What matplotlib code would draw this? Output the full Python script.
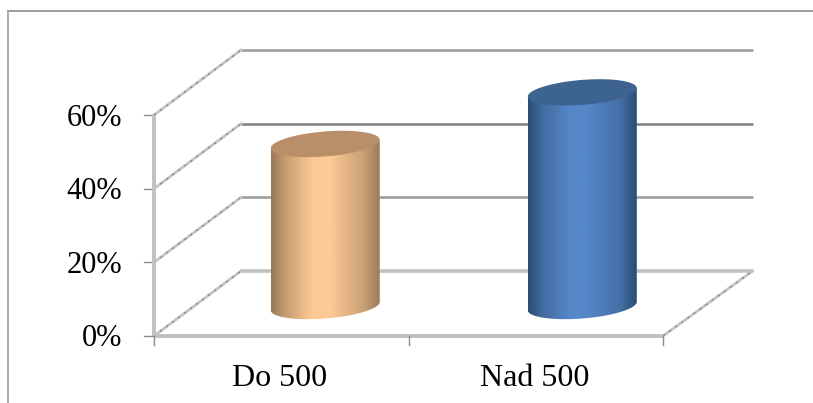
import numpy as np
import matplotlib
matplotlib.use('Agg')
import matplotlib.pyplot as plt
from matplotlib.colors import LinearSegmentedColormap
from matplotlib.patches import PathPatch, Polygon
from matplotlib.path import Path

categories = ['Do 500', 'Nad 500']
values = [44, 58]
yticks = [0, 20, 40, 60]
ytick_labels = ['0%', '20%', '40%', '60%']
side_colors = [
    ['#987757', '#c39a70', '#fdc994', '#fdc994', '#c9a075', '#9c7b5b'],
    ['#2c4d75', '#41699c', '#5587c9', '#5587c9', '#446fa6', '#2b4c75'],
]
top_colors = ['#b98f69', '#3d6491']

W, H = 813, 403
plt.rcParams['font.family'] = ['Liberation Serif', 'DejaVu Serif']

# scale of the plot box in pixels per data unit
x0_px, y0_px = 154, 336
px_x = 254.5
px_y = 3.683
depth_x = 87 / px_x
depth_y = 65 / px_y

fig = plt.figure(figsize=(W / 100, H / 100), dpi=100)
ax = fig.add_axes([0, 0, 1, 1])
xlim = (-x0_px / px_x, (W - x0_px) / px_x)
ylim = ((y0_px - H) / px_y, y0_px / px_y)
ax.axis('off')

# chart frame, only top and left are there
ax.plot([xlim[0] + 8 / px_x, xlim[1]], [ylim[1] - 11 / px_y] * 2, color='#8c8c8c', lw=1.2)
ax.plot([xlim[0] + 8 / px_x] * 2, [ylim[0], ylim[1] - 11 / px_y], color='#a0a0a0', lw=1.2)

# back wall grid
grid_colors = {0: '#c0c0c0', 20: '#a0a0a0', 40: '#858585', 60: '#a0a0a0'}
for t in yticks:
    ax.plot([depth_x, 2 + depth_x * 1.03], [t + depth_y] * 2, color=grid_colors[t],
            lw=2.6 if t == 0 else 1.9, solid_capstyle='butt', zorder=1)
    # slanted lines on the side wall
    ax.plot([0, depth_x], [t, t + depth_y], color='#c4c4c4', lw=2, zorder=1)
    ax.plot([0, depth_x], [t, t + depth_y], color='#8a8a8a', lw=0.9, ls=(0, (2, 4)), zorder=1)
    ax.plot([-10 / px_x, 0], [t, t], color='#8c8c8c', lw=1, zorder=2)
    ax.text(-32 / px_x, t - 3 / px_y, ytick_labels[t // 20], ha='right', va='center', fontsize=22, color='black')

ax.plot([2, 2 + depth_x * 1.03], [0, depth_y], color='#c4c4c4', lw=2, zorder=1)
ax.plot([2, 2 + depth_x * 1.03], [0, depth_y], color='#8a8a8a', lw=0.9, ls=(0, (2, 4)), zorder=1)

# front edges of the floor and wall
ax.plot([0, 0], [0, 60], color='#c0c0c0', lw=2.8, solid_capstyle='butt', zorder=2)
ax.plot([0, 2], [0, 0], color='#c0c0c0', lw=2.8, solid_capstyle='butt', zorder=2)
for t in [0, 1, 2]:
    ax.plot([t, t], [0, -9 / px_y], color='#8c8c8c', lw=1, zorder=3)

# cylinders
half_w = 54.5 / px_x
tilt = 4.2 / px_y
half_h = 12.5 / px_y
base_dx = 44 / px_x
base_dy = 30 / px_y
theta = np.linspace(0, 2 * np.pi, 121)

for i, (name, val) in enumerate(zip(categories, values)):
    cx = 1.01 * i + 0.5 + base_dx
    ex = cx + half_w * np.cos(theta)
    ey = tilt * np.cos(theta) + half_h * np.sin(theta)
    top = val + base_dy
    lower = theta[60:]
    lx = cx + half_w * np.cos(lower)
    ly = base_dy + tilt * np.cos(lower) + half_h * np.sin(lower)
    body = np.vstack([np.column_stack([lx, ly]),
                      [[cx + half_w, top + tilt], [cx - half_w, top - tilt]]])
    clip = PathPatch(Path(np.vstack([body, body[0]]), closed=True), fc='none', ec='none',
                     transform=ax.transData)
    ax.add_patch(clip)
    cmap = LinearSegmentedColormap.from_list('side', list(zip([0, 0.12, 0.38, 0.55, 0.85, 1], side_colors[i])))
    im = ax.imshow(np.linspace(0, 1, 256)[None, :], cmap=cmap, aspect='auto', zorder=4,
                   extent=(cx - half_w, cx + half_w, base_dy - 20 / px_y, top + 20 / px_y),
                   interpolation='bilinear')
    im.set_clip_path(clip)
    ax.add_patch(Polygon(np.column_stack([ex, top + ey]), closed=True, fc=top_colors[i], ec='none', zorder=5))
    ax.text(i + 0.495, -42 / px_y, name, ha='center', va='center', fontsize=23, color='black')

ax.set_xlim(xlim)
ax.set_ylim(ylim)
fig.savefig('out.png', dpi=100, facecolor='white')
